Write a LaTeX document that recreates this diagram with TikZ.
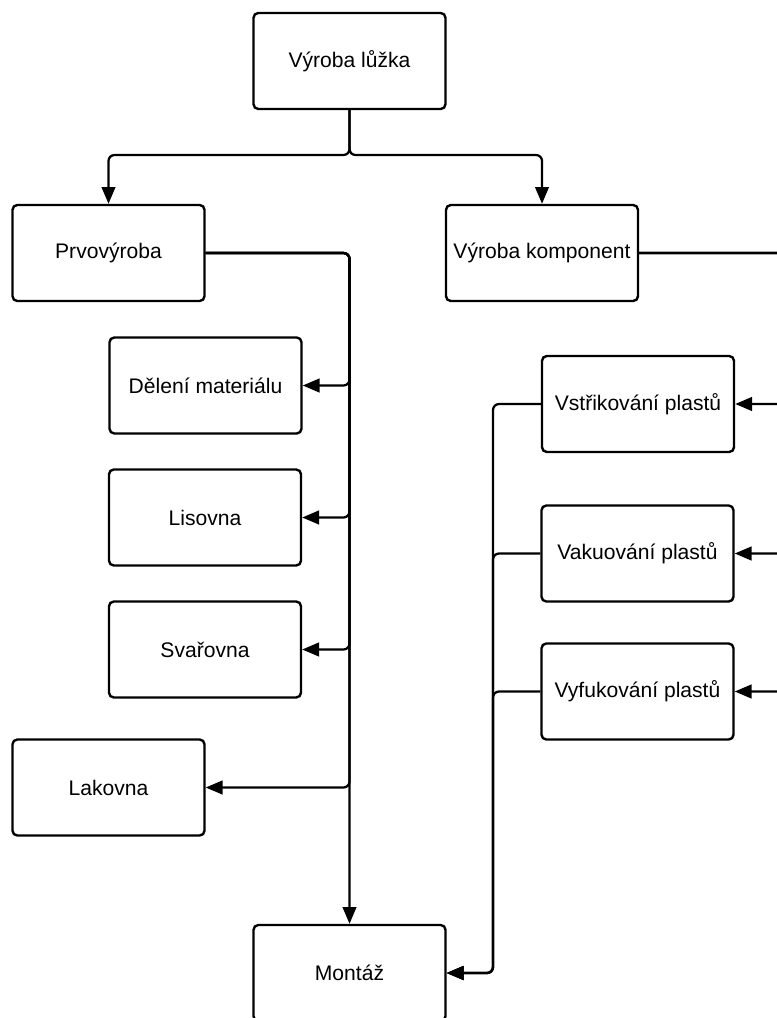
\documentclass[tikz,border=0pt]{standalone}
\usepackage{fontspec}
\setmainfont{Liberation Sans}
\usepackage{tikz}
\usetikzlibrary{arrows.meta}

\begin{document}
\begin{tikzpicture}[x=0.25mm, y=-0.25mm,
    box/.style={draw, line width=1.7pt, rounded corners=1.2mm, fill=white,
        minimum width=48mm, minimum height=24mm, inner sep=0pt,
        font=\fontsize{15}{18}\selectfont},
    link/.style={line width=1.6pt, rounded corners=1.5mm,
        -{Triangle[length=4.2mm, width=3.4mm]}}]

    % frame of the page (pixels of the original, y going down)
    \useasboundingbox (0,0) rectangle (776,1018);

    % === top level ===
    \node[box] (lozko) at (349.5, 61) {Výroba lůžka};
    \node[box] (prvo)  at (108.5, 253) {Prvovýroba};
    \node[box] (komp)  at (542, 253) {Výroba komponent};

    % === left column (prvovýroba) ===
    \node[box] (deleni)  at (205.5, 385.5) {Dělení materiálu};
    \node[box] (lis)     at (205, 517.5) {Lisovna};
    \node[box] (svar)    at (205, 649.5) {Svařovna};
    \node[box] (lak)     at (108.5, 787.5) {Lakovna};

    % === right column (komponenty) ===
    \node[box] (vstrik) at (638, 404) {Vstřikování plastů};
    \node[box] (vakuum) at (637.5, 553.5) {Vakuování plastů};
    \node[box] (vyfuk)  at (637.5, 691.5) {Vyfukování plastů};

    % === bottom ===
    \node[box] (montaz) at (349.5, 973) {Montáž};

    % rails of the connectors
    \coordinate (split) at (349.5, 155);
    \coordinate (railP) at (349.5, 0);
    \coordinate (railK) at (800, 0);
    \coordinate (railM) at (493, 0);

    % from the top box
    \draw[link] (lozko.south) -- (split) -| (prvo.north);
    \draw[link] (lozko.south) -- (split) -| (komp.north);

    % prvovýroba branches
    \draw[link] (prvo.east) -| (railP |- deleni.east) -- (deleni.east);
    \draw[link] (prvo.east) -| (railP |- lis.east) -- (lis.east);
    \draw[link] (prvo.east) -| (railP |- svar.east) -- (svar.east);
    \draw[link] (prvo.east) -| (railP |- lak.east) -- (lak.east);
    \draw[link] (prvo.east) -| (montaz.north);

    % výroba komponent branches (rail runs off the page on the right)
    \draw[link] (komp.east) -| (railK |- vstrik.east) -- (vstrik.east);
    \draw[link] (komp.east) -| (railK |- vakuum.east) -- (vakuum.east);
    \draw[link] (komp.east) -| (railK |- vyfuk.east) -- (vyfuk.east);

    % plastics into assembly
    \draw[link] (vstrik.west) -| (railM |- montaz.east) -- (montaz.east);
    \draw[link] (vakuum.west) -| (railM |- montaz.east) -- (montaz.east);
    \draw[link] (vyfuk.west) -| (railM |- montaz.east) -- (montaz.east);

\end{tikzpicture}
\end{document}
